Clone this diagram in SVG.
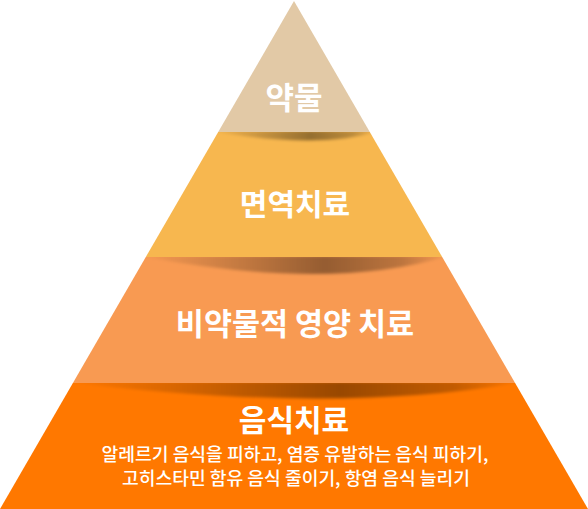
<svg xmlns="http://www.w3.org/2000/svg" width="588" height="509" viewBox="0 0 588 509">
<style>
.h{font-family:"Noto Sans CJK KR","Noto Sans",sans-serif;font-weight:700;fill:#fff;text-anchor:middle}
.b{font-family:"Noto Sans CJK KR","Noto Sans",sans-serif;font-weight:500;fill:#fff;text-anchor:middle;font-size:18.2px}
</style>
<defs>
<linearGradient id="sg" x1="0" y1="0" x2="1" y2="0">
<stop offset="0" stop-color="#000" stop-opacity="0"/>
<stop offset="0.25" stop-color="#000" stop-opacity="0.16"/>
<stop offset="0.6" stop-color="#000" stop-opacity="0.4"/>
<stop offset="0.85" stop-color="#000" stop-opacity="0.24"/>
<stop offset="1" stop-color="#000" stop-opacity="0"/>
</linearGradient>
<filter id="bl" x="-10%" y="-50%" width="120%" height="200%"><feGaussianBlur stdDeviation="1.5"/></filter>
<clipPath id="c2"><polygon points="218.2,132 369.8,132 442.2,257 145.8,257"/></clipPath>
<clipPath id="c3"><polygon points="145.8,257 442.2,257 515.1,383 72.9,383"/></clipPath>
<clipPath id="c4"><polygon points="72.9,383 515.1,383 588,509 0,509"/></clipPath>
</defs>
<g id="node-medicine">
<polygon points="294,1 369.8,132 218.2,132" fill="#E2C9A6"/>
<text class="h" x="294" y="109" font-size="31">약물</text>
</g>
<g id="node-immunotherapy">
<polygon points="218.2,132 369.8,132 442.2,257 145.8,257" fill="#F7B74F"/>
<path d="M210,131 L378,131 Q320,150 210,131 Z" fill="url(#sg)" filter="url(#bl)" clip-path="url(#c2)"/>
<text class="h" x="295" y="215" font-size="30">면역치료</text>
</g>
<g id="node-nutrition">
<polygon points="145.8,257 442.2,257 515.1,383 72.9,383" fill="#F89A52"/>
<path d="M140,256 L448,256 Q330,292 140,256 Z" fill="url(#sg)" filter="url(#bl)" clip-path="url(#c3)"/>
<text class="h" x="295" y="335" font-size="30.5">비약물적 영양 치료</text>
</g>
<g id="node-diet">
<polygon points="72.9,383 515.1,383 588,509 0,509" fill="#FF7800"/>
<path d="M66,382 L522,382 Q340,415 66,382 Z" fill="url(#sg)" filter="url(#bl)" clip-path="url(#c4)"/>
<text class="h" x="294" y="431" font-size="30">음식치료</text>
<text class="b" x="295" y="461">알레르기 음식을 피하고, 염증 유발하는 음식 피하기,</text>
<text class="b" x="296" y="485">고히스타민 함유 음식 줄이기, 항염 음식 늘리기</text>
</g>
</svg>
